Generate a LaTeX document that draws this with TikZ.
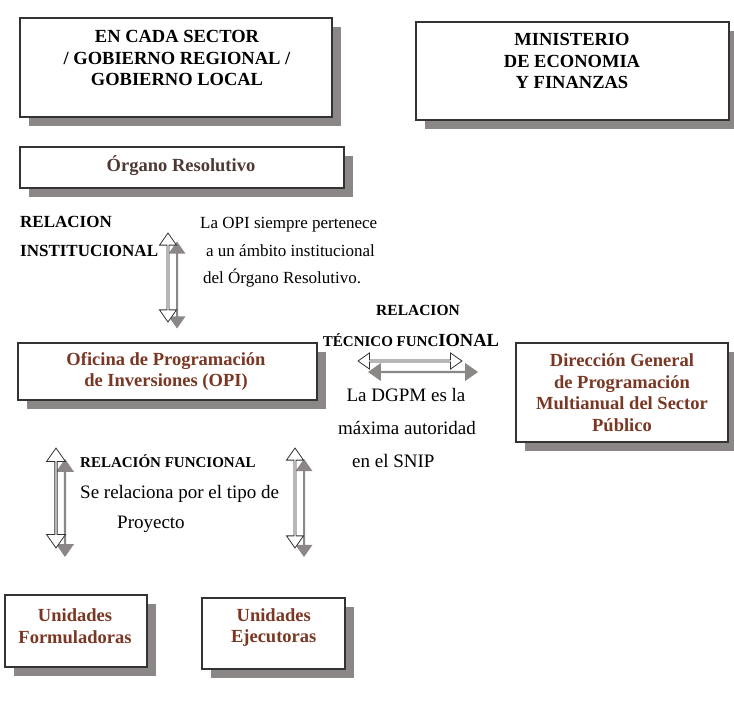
\documentclass[tikz,border=0pt]{standalone}
\usepackage{fontspec}
\setmainfont{Liberation Serif}
\usetikzlibrary{shapes.arrows,shadows}
\definecolor{shadowgray}{HTML}{8C8787}
\definecolor{titlebrown}{HTML}{7A3724}
\definecolor{darkbrown}{HTML}{4E3A33}
\definecolor{linegray}{HTML}{333333}
\tikzset{
  box/.style={draw=linegray, line width=1.2pt, fill=white, rectangle, inner sep=0pt,
    general shadow={fill=shadowgray, shadow xshift=9pt, shadow yshift=-9pt}},
  boxtext/.style={font=\fontsize{18.5}{21.5}\selectfont\bfseries, align=center, inner sep=0pt},
  plain/.style={font=\fontsize{17}{20}\selectfont, inner sep=0pt, anchor=west},
  bigplain/.style={font=\fontsize{19}{22}\selectfont, inner sep=0pt},
  lbl/.style={font=\fontsize{17}{20}\selectfont\bfseries, inner sep=0pt, anchor=west},
  darr/.style={double arrow, draw=linegray, line width=0.8pt, fill=white, inner sep=0pt,
    double arrow head extend=3pt, double arrow tip angle=70, minimum width=17pt},
  darrsh/.style={darr, draw=none, fill=shadowgray},
}
\begin{document}
\begin{tikzpicture}[x=1pt,y=-1pt]
\useasboundingbox (0,0) rectangle (734,711);
% boxes
\node[box, minimum width=312pt, minimum height=99pt] (sector) at (176,67.5) {};
\node[boxtext] (sectort) at (177,58) {EN CADA SECTOR\\/ GOBIERNO REGIONAL /\\GOBIERNO LOCAL};
\node[box, minimum width=313pt, minimum height=98pt] (mef) at (572.5,71) {};
\node[boxtext] (meft) at (572,61) {MINISTERIO\\DE ECONOMIA\\Y FINANZAS};
\node[box, minimum width=324pt, minimum height=41pt] (organo) at (182,167.5) {};
\node[boxtext, text=darkbrown] (organot) at (181,166) {Órgano Resolutivo};
\node[box, minimum width=299pt, minimum height=57pt] (opi) at (167.5,371.5) {};
\node[boxtext, text=titlebrown] (opit) at (166,371.5) {Oficina de Programación\\de Inversiones (OPI)};
\node[box, minimum width=212pt, minimum height=99pt] (dgpm) at (622,392.5) {};
\node[boxtext, text=titlebrown] (dgpmt) at (622,392.5) {Dirección General\\de Programación\\Multianual del Sector\\Público};
\node[box, minimum width=142pt, minimum height=72pt] (uf) at (76,631) {};
\node[boxtext, text=titlebrown] (uft) at (75,626) {Unidades\\Formuladoras};
\node[box, minimum width=143pt, minimum height=71pt] (ue) at (273.5,633.5) {};
\node[boxtext, text=titlebrown] (uet) at (273.7,627.5) {Unidades\\Ejecutoras};
% labels
\node[lbl] (rel1) at (20,222) {RELACION};
\node[lbl] (rel2) at (20,251) {INSTITUCIONAL};
\node[plain] (opi1) at (200,225) {La OPI siempre pertenece};
\node[plain] (opi2) at (206,251) {a un ámbito institucional};
\node[plain] (opi3) at (203,278) {del Órgano Resolutivo.};
\node[font=\fontsize{15.5}{18}\selectfont\bfseries, inner sep=0pt] (rel3) at (418,310) {RELACION};
\node[font=\bfseries, inner sep=0pt] (rel4) at (411,340) {{\fontsize{15}{18}\selectfont TÉCNICO FUNC}{\fontsize{18.5}{20}\selectfont IONAL}};
\node[bigplain] (dg1) at (406,395) {La DGPM es la};
\node[bigplain] (dg2) at (407,428) {máxima autoridad};
\node[bigplain, anchor=west] (dg3) at (352,461) {en el SNIP};
\node[font=\fontsize{15}{18}\selectfont\bfseries, inner sep=0pt, anchor=west] (rf) at (80,461) {RELACIÓN FUNCIONAL};
\node[bigplain, anchor=west] (rf2) at (80,494) {Se relaciona por el tipo de};
\node[bigplain, anchor=west] (rf3) at (117,524) {Proyecto};
% arrows
\node[darrsh, rotate=90, minimum height=87pt] (a1s) at (177,285) {};
\node[darr, rotate=90, minimum height=89pt] (a1) at (168,277.5) {};
\node[darrsh, minimum height=110pt, minimum width=18pt] (a2s) at (423,372) {};
\node[darr, minimum height=104pt, minimum width=16pt] (a2) at (410,361) {};
\node[darrsh, rotate=90, minimum height=98pt, minimum width=18pt] (a3s) at (65,508) {};
\node[darr, rotate=90, minimum height=100pt, minimum width=19pt] (a3) at (56,498) {};
\node[darrsh, rotate=90, minimum height=98pt] (a4s) at (304,508) {};
\node[darr, rotate=90, minimum height=100pt] (a4) at (295,498) {};
\end{tikzpicture}
\end{document}
